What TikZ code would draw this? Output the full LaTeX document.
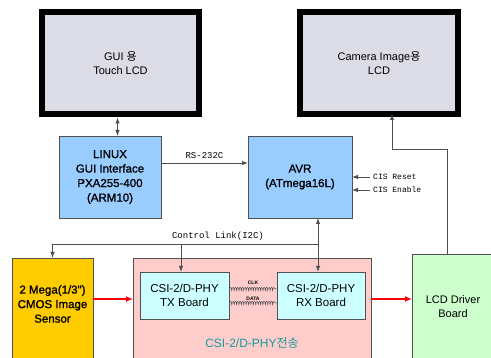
\documentclass[tikz,border=0pt]{standalone}
\usepackage{fontspec}
\setmainfont{Liberation Sans}
\newfontfamily\heavyf[FakeBold=1.2]{Liberation Sans}
\newfontfamily\cjk{Noto Sans CJK KR}
\newfontfamily\monof{Liberation Mono}
\usetikzlibrary{arrows.meta,calc,decorations.pathmorphing}

\definecolor{lcdgray}{HTML}{DCDCE6}
\definecolor{cpublue}{HTML}{99CCFF}
\definecolor{sensorgold}{HTML}{FFCC00}
\definecolor{linkpink}{HTML}{FFCCCC}
\definecolor{boardcyan}{HTML}{CCFFFF}
\definecolor{drvgreen}{HTML}{CCFFCC}
\definecolor{edgegray}{HTML}{505050}
\definecolor{linkteal}{HTML}{169C9C}

\tikzset{
  box/.style={draw=edgegray, line width=0.9pt, rectangle, inner sep=0pt, outer sep=0pt,
              align=center, font=\fontsize{11.5}{14}\selectfont},
  heavytext/.style={font=\heavyf\fontsize{11.5}{14.5}\selectfont},
  lcd/.style={draw=black, line width=6.5pt, fill=lcdgray, rectangle, inner sep=0pt,
              outer sep=0pt, align=center, font=\fontsize{11}{14}\selectfont},
  wire/.style={draw=edgegray, line width=0.9pt},
  tip/.style={-{Latex[length=6pt,width=4.5pt]}},
  bitip/.style={{Latex[length=6pt,width=4.5pt]}-{Latex[length=6pt,width=4.5pt]}},
  redwire/.style={draw=red, line width=1.3pt, -{Latex[length=7pt,width=6pt]}},
  monolabel/.style={font=\monof\fontsize{9}{10}\selectfont, inner sep=0pt},
  coilwire/.style={draw=edgegray, line width=0.5pt,
     decorate, decoration={coil, amplitude=1.6pt, segment length=2.4pt, aspect=0.6}},
  tinylabel/.style={font=\bfseries\fontsize{5}{5}\selectfont, inner sep=0pt}
}

\begin{document}
\begin{tikzpicture}[x=1pt, y=-1pt]
\path[use as bounding box, clip] (0,0) rectangle (491,358);
\fill[white] (0,0) rectangle (491,358);

% displays
\node[lcd, minimum width=157, minimum height=102] (guilcd) at (120.5,63)
  {GUI {\cjk 용}\\Touch LCD};
\node[lcd, minimum width=158, minimum height=102] (camlcd) at (379,63)
  {Camera Image{\cjk 용}\\LCD};

% controllers
\node[box, heavytext, fill=cpublue, minimum width=102, minimum height=82] (linux) at (110,177)
  {LINUX\\GUI Interface\\PXA255-400\\(ARM10)};
\node[box, heavytext, fill=cpublue, minimum width=104, minimum height=82] (avr) at (300,177)
  {AVR\\(ATmega16L)};

% lower row (continues below the page edge)
\node[box, fill=sensorgold, minimum width=81, minimum height=130] (cmos) at (52.5,323) {};
\node[align=center, heavytext, inner sep=0pt] (cmostext) at (52.5,304)
  {2 Mega(1/3")\\CMOS Image\\Sensor};
\node[box, fill=linkpink, minimum width=238, minimum height=130] (csi) at (252,323) {};
\node[box, fill=boardcyan, minimum width=89, minimum height=47] (tx) at (184.5,295.5)
  {CSI-2/D-PHY\\TX Board};
\node[box, fill=boardcyan, minimum width=88, minimum height=47] (rx) at (321,295.5)
  {CSI-2/D-PHY\\RX Board};
\node[font=\fontsize{12}{14}\selectfont, text=linkteal, inner sep=0pt] (csitext) at (252,343)
  {CSI-2/D-PHY{\cjk 전송}};
\node[box, fill=drvgreen, minimum width=90, minimum height=134] (drv) at (457,321) {};
\node[align=center, font=\fontsize{11}{14}\selectfont, inner sep=0pt] (drvtext) at (453,307)
  {LCD Driver\\Board};

% touch LCD <-> LINUX
\draw[wire, bitip]
  ([xshift=-3pt]guilcd.south) ++(0,-3.5pt) coordinate (gtop)
  (gtop) -- (gtop |- linux.north);

% RS-232C
\draw[wire, tip] ([yshift=14pt]linux.east) -- ([yshift=14pt]linux.east -| avr.west)
  node[pos=0.5, above=4pt, monolabel] (rslabel) {RS-232C};

% CIS control inputs
\coordinate (cisreset) at (370,177);
\coordinate (cisenable) at (370,190);
\draw[wire, tip] (cisreset) -- (cisreset -| avr.east);
\draw[wire, tip] (cisenable) -- (cisenable -| avr.east);
\node[monolabel, anchor=west, font=\monof\fontsize{8}{9}\selectfont] (resetlabel) at (373,177) {CIS Reset};
\node[monolabel, anchor=west, font=\monof\fontsize{8}{9}\selectfont] (enablelabel) at (373,190) {CIS Enable};

% control link (I2C)
\coordinate (ctl) at (318,244);
\draw[wire, bitip] (avr.south -| ctl) -- (rx.north -| ctl);
\draw[wire, tip] (ctl) -| (cmos.north);
\draw[wire, tip] ([xshift=-3.5pt]tx.north |- ctl) -- ([xshift=-3.5pt]tx.north);
\node[monolabel, anchor=south] (ctllabel) at (218,241) {Control Link(I2C)};

% driver board -> camera LCD
\coordinate (bend) at (447,149);
\draw[wire, tip] (bend |- drv.north) -- (bend) -| ([xshift=13pt]camlcd.south);

% CLK / DATA lanes
\draw[coilwire] ([yshift=6.5pt]tx.east) -- ([yshift=6.5pt]tx.east -| rx.west);
\draw[coilwire] ([yshift=-7.5pt]tx.east) -- ([yshift=-7.5pt]tx.east -| rx.west);
\node[tinylabel] (clklabel) at (253,282.5) {CLK};
\node[tinylabel] (datalabel) at (253,298.5) {DATA};

% image data path
\coordinate (datay) at (0,299);
\draw[redwire] (cmos.east |- datay) -- (csi.west |- datay);
\draw[redwire] (csi.east |- datay) -- (drv.west |- datay);
\end{tikzpicture}
\end{document}
